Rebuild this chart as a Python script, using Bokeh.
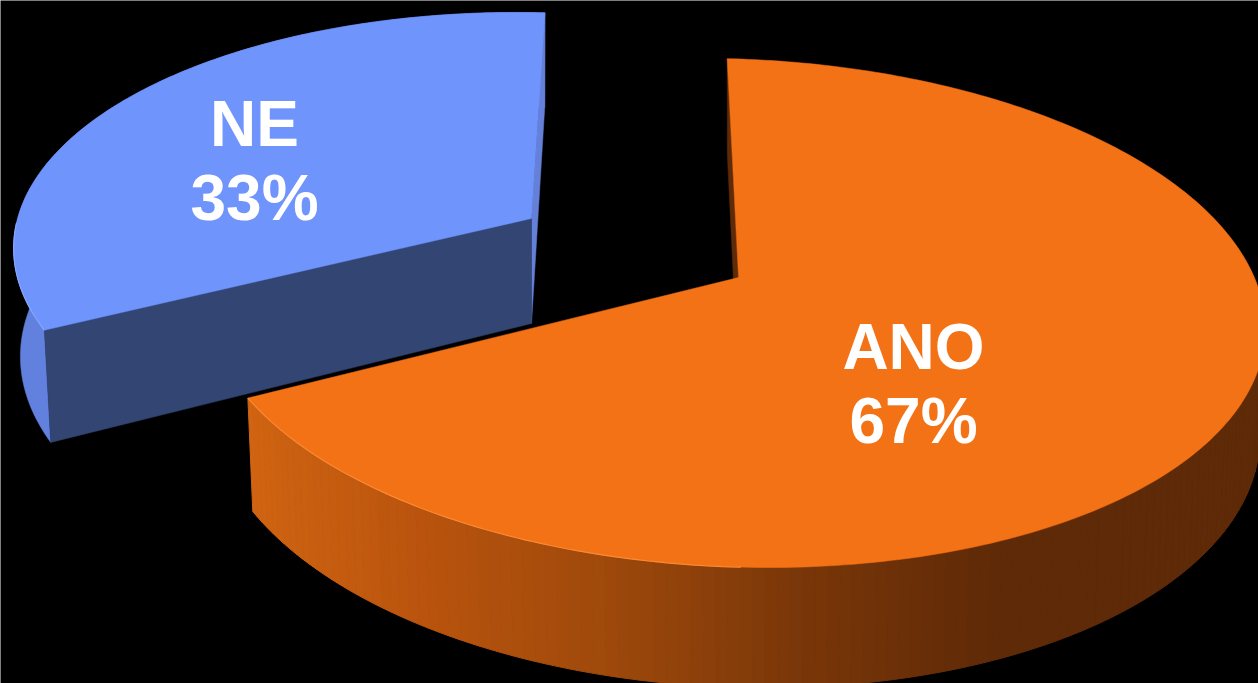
import numpy as np
from bokeh.plotting import figure
from bokeh.models import Range1d
from bokeh.core.properties import value
from bokeh.embed import file_html
from bokeh.resources import INLINE

categories = ["ANO", "NE"]
values = [67, 33]
percent_labels = ["67%", "33%"]

W, H = 1258, 683
FIRST_ANGLE = -96.0
K, J = 0.14, 0.005

# layout of each exploded slice: apex, affine terms, depth
GEOM = {
    "ANO": dict(cx=738, cy=277, A=523, S=-42, R=36, B=247, d=106, shrink=0.99,
                lab=(913, 346, 420)),
    "NE": dict(cx=531, cy=218, A=501, S=-68, R=35.5, B=232, d=105, shrink=0.987,
               lab=(254, 123, 197)),
}


def proj(g, deg, radius=1.0, low=False):
    t = np.radians(np.asarray(deg, dtype=float))
    c, n = np.cos(t), np.sin(t)
    w = 1 - K * n - J * c
    u, v = radius * c / w, radius * n / w
    if low:
        u, v = u * g["shrink"], v * g["shrink"]
    x = g["cx"] + g["A"] * u + g["S"] * v
    y = g["cy"] + g["R"] * u + g["B"] * v
    if low:
        y = y + g["d"] / w
    return x, y


sweeps = [360.0 * v / sum(values) for v in values]
starts = [FIRST_ANGLE, FIRST_ANGLE + sweeps[0]]
ang_ano = (starts[0], starts[0] + sweeps[0])
ang_ne = (starts[1], starts[1] + sweeps[1])

p = figure(width=W, height=H, output_backend="svg", toolbar_location=None,
           x_range=Range1d(0, W), y_range=Range1d(H, 0),
           background_fill_color="black", border_fill_color="black",
           min_border=0, outline_line_color=None)
p.axis.visible = False
p.grid.visible = False


def apex_low(g):
    return g["cx"], g["cy"] + g["d"]


# ---- NE slice
g = GEOM["NE"]
a0, a1 = ang_ne
ts = np.linspace(a1, a0, 160)  # from far edge round the left to the near corner
xt, yt = proj(g, ts)
xl, yl = proj(g, ts, low=True)
p.patch(np.r_[xt, xl[::-1]], np.r_[yt, yl[::-1]], fill_color="#6281de", line_color="#6281de", line_width=0.5)
# far wall
fx, fy = proj(g, a1)
fxl, fyl = proj(g, a1, low=True)
ax, ay = apex_low(g)
p.patch([fx, fxl, ax, g["cx"]], [fy, fyl, ay, g["cy"]], fill_color="#6480d8", line_color="#6480d8", line_width=0.5)
# cut face
nx, ny = proj(g, a0)
nxl, nyl = proj(g, a0, low=True)
p.patch([g["cx"], nx, nxl, ax], [g["cy"], ny, nyl, ay], fill_color="#334573", line_color="#334573", line_width=0.5)
# top
p.patch(np.r_[g["cx"], xt], np.r_[g["cy"], yt], fill_color="#6f94fc", line_color="#6f94fc", line_width=0.5)
rim = np.linspace(a0, a0 + 25, 30)
rx, ry = proj(g, rim)
p.line(rx, ry, line_color="#86a6ff", line_width=1.2)

# ---- ANO slice
g = GEOM["ANO"]
a0, a1 = ang_ano
fx, fy = proj(g, a0)
fxl, fyl = proj(g, a0, low=True)
ax, ay = apex_low(g)
p.patch([fx, fxl, ax, g["cx"]], [fy, fyl, ay, g["cy"]], fill_color="#5f2a07", line_color="#5f2a07", line_width=0.5)

shade_x = [250, 420, 600, 800, 1000, 1260]
shade_r = [208, 186, 160, 122, 95, 95]
shade_g = [100, 84, 74, 55, 42, 42]
shade_b = [18, 14, 12, 9, 7, 7]
edges = np.linspace(-30, a1, 150)
qx, qy, qc = [], [], []
for t0, t1 in zip(edges[:-1], edges[1:]):
    x0, y0 = proj(g, t0)
    x1, y1 = proj(g, t1)
    x2, y2 = proj(g, t1, low=True)
    x3, y3 = proj(g, t0, low=True)
    qx.append([x0, x1, x2, x3])
    qy.append([y0, y1, y2, y3])
    m = (x0 + x1) / 2
    qc.append("#%02x%02x%02x" % (int(np.interp(m, shade_x, shade_r)),
                                 int(np.interp(m, shade_x, shade_g)),
                                 int(np.interp(m, shade_x, shade_b))))
p.patches(qx, qy, fill_color=qc, line_color=qc, line_width=1)

ts = np.linspace(a0, a1, 260)
xt, yt = proj(g, ts)
p.patch(np.r_[g["cx"], xt], np.r_[g["cy"], yt], fill_color="#f47216", line_color="#f47216", line_width=0.5)
rim = np.linspace(a1 - 60, a1, 70)
rx, ry = proj(g, rim)
p.line(rx, ry, line_color="#fb8a35", line_width=1.2)

# ---- labels
for cat, pct in zip(categories, percent_labels):
    lx, ly1, ly2 = GEOM[cat]["lab"]
    p.text([lx, lx], [ly1, ly2], text=[cat, pct], text_color="white",
           text_font=value("Liberation Sans"), text_font_style="bold",
           text_font_size="64px", text_align="center", text_baseline="middle")

open("out.html", "w").write(file_html(p, INLINE))
